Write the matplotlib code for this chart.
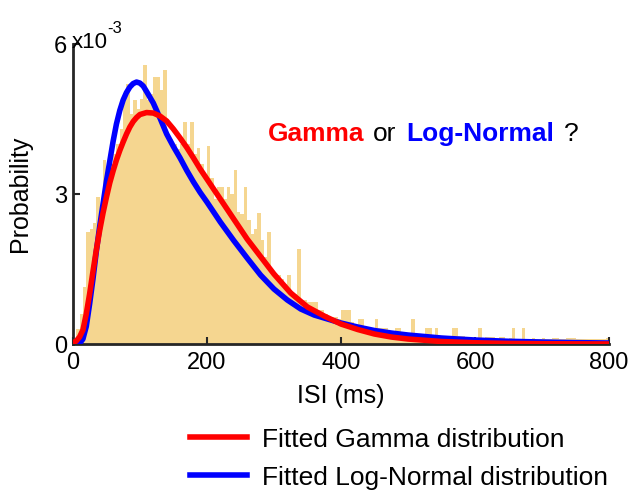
import matplotlib
matplotlib.use('Agg')
import matplotlib.pyplot as plt
import numpy as np
from matplotlib.lines import Line2D

plt.rcParams['font.family'] = ['Liberation Sans', 'DejaVu Sans']

# ISI histogram, 5 ms bins starting at 0 (probability, units of 1e-3)
bin_width = 5
hist_vals = [
    0.05, 0.3, 0.6, 1.14, 2.24, 2.3, 2.42, 2.94, 2.74, 3.68,
    3.4, 3.6, 3.8, 4.0, 4.3, 4.88, 5.2, 4.6, 4.88, 4.7,
    4.9, 5.58, 4.88, 5.0, 5.34, 5.34, 5.08, 5.48, 4.2, 4.1,
    4.0, 3.9, 4.0, 4.44, 4.0, 4.44, 3.8, 3.92, 3.6, 3.4,
    3.96, 3.32, 2.9, 3.14, 3.14, 2.9, 3.14, 3.0, 3.48, 2.64,
    2.6, 3.14, 2.48, 2.2, 2.3, 2.62, 2.08, 1.74, 2.24, 1.38,
    1.38, 1.38, 1.3, 1.2, 1.38, 1.02, 1.0, 1.9, 0.88, 0.88,
    0.84, 0.84, 0.84, 0.68, 0.68, 0.6, 0.54, 0.54, 0.54, 0.5,
    0.68, 0.68, 0.68, 0.45, 0.38, 0.5, 0.5, 0.32, 0.32, 0.32,
    0.5, 0.32, 0.32, 0.32, 0.18, 0.18, 0.32, 0.32, 0.2, 0.2,
    0.2, 0.5, 0.15, 0.15, 0.15, 0.32, 0.32, 0.15, 0.32, 0.14,
    0.14, 0.14, 0.14, 0.32, 0.32, 0.16, 0.16, 0.12, 0.12, 0.1,
    0.12, 0.32, 0.1, 0.14, 0.14, 0.14, 0.1, 0.14, 0.14, 0.1,
    0.12, 0.32, 0.1, 0.1, 0.32, 0.1, 0.1, 0.12, 0.1, 0.1,
    0.12, 0.1, 0.1, 0.12, 0.12, 0.1, 0.1, 0.12, 0.12, 0.12,
    0.1, 0.1, 0.1, 0.1, 0.1, 0.1, 0.1, 0.1, 0.1, 0.12,
]
bin_left = np.arange(len(hist_vals)) * bin_width

# fitted curves (units of 1e-3)
gamma_x = [0, 5, 10, 15, 20, 25, 30, 35, 40, 45, 50, 55, 60, 65, 70, 75, 80, 85,
           90, 95, 100, 110, 120, 130, 140, 150, 160, 170, 180, 190, 200, 220,
           240, 260, 280, 300, 325, 350, 375, 400, 425, 450, 475, 500, 550, 600,
           650, 700, 750, 800]
gamma_y = [0.02, 0.06, 0.14, 0.28, 0.6, 1.0, 1.45, 1.88, 2.27, 2.62, 2.93, 3.22,
           3.46, 3.68, 3.87, 4.04, 4.2, 4.34, 4.45, 4.53, 4.59, 4.63, 4.62, 4.56,
           4.46, 4.3, 4.12, 3.93, 3.72, 3.5, 3.3, 2.9, 2.5, 2.1, 1.75, 1.4, 1.02,
           0.74, 0.56, 0.4, 0.29, 0.2, 0.14, 0.1, 0.05, 0.025, 0.012, 0.006,
           0.003, 0.001]

lognorm_x = [0, 5, 10, 15, 20, 25, 30, 35, 40, 45, 50, 55, 60, 65, 70, 75, 80, 85,
             90, 95, 100, 105, 110, 120, 130, 140, 150, 160, 170, 180, 190, 200,
             220, 240, 260, 280, 300, 320, 340, 360, 380, 400, 425, 450, 475, 500,
             550, 600, 650, 700, 750, 800]
lognorm_y = [0.0, 0.0, 0.01, 0.1, 0.35, 0.8, 1.3, 1.85, 2.35, 2.8, 3.25, 3.65,
             4.05, 4.4, 4.67, 4.88, 5.03, 5.14, 5.21, 5.24, 5.22, 5.16, 5.05, 4.82,
             4.52, 4.2, 3.95, 3.72, 3.47, 3.24, 3.03, 2.84, 2.44, 2.07, 1.72, 1.38,
             1.1, 0.88, 0.7, 0.58, 0.5, 0.42, 0.34, 0.27, 0.22, 0.18, 0.12, 0.08,
             0.055, 0.04, 0.028, 0.02]

x_ticks = [0, 200, 400, 600, 800]
y_ticks = [0, 3, 6]

fig = plt.figure(figsize=(6.28, 4.95), dpi=100)
ax = fig.add_axes([0.116, 0.305, 0.854, 0.606])

ax.bar(bin_left, hist_vals, width=bin_width, align='edge', color='#F5D690',
       linewidth=0, zorder=1)
ax.plot(lognorm_x, lognorm_y, color='#0000FF', lw=4, zorder=3)
ax.plot(gamma_x, gamma_y, color='#FF0000', lw=4, zorder=4)

ax.set_xlim(0, 800)
ax.set_ylim(0, 6)
ax.set_xticks(x_ticks)
ax.set_yticks(y_ticks)
ax.tick_params(direction='in', length=5, width=1.5, labelsize=17,
               colors='#262626', labelcolor='black')
ax.tick_params(axis='x', pad=6)
ax.tick_params(axis='y', pad=4)
for side in ['top', 'right']:
    ax.spines[side].set_visible(False)
for side in ['left', 'bottom']:
    ax.spines[side].set_linewidth(2)
    ax.spines[side].set_color('#262626')

ax.set_xlabel('ISI (ms)', fontsize=18, labelpad=7)
ax.set_ylabel('Probability', fontsize=18, labelpad=16)

# y scale factor, written by hand
fig.text(72 / 628, 1 - 48 / 495, 'x10', fontsize=16, ha='left', va='baseline')
fig.text(107 / 628, 1 - 33 / 495, '-3', fontsize=12, ha='left', va='baseline')

# question in the plot area
ax.text(291, 4.07, 'Gamma', color='#FF0000', fontsize=19, fontweight='bold')
ax.text(447, 4.07, 'or', color='black', fontsize=19)
ax.text(497, 4.07, 'Log-Normal', color='#0000FF', fontsize=19, fontweight='bold')
ax.text(733, 4.07, '?', color='black', fontsize=19)

handles = [Line2D([], [], color='#FF0000', lw=4),
           Line2D([], [], color='#0000FF', lw=4)]
fig.legend(handles, ['Fitted Gamma distribution', 'Fitted Log-Normal distribution'],
           loc='upper left', bbox_to_anchor=(0.302, 0.136), frameon=False,
           fontsize=19, handlelength=2.16, handletextpad=0.6, labelspacing=0.53,
           borderpad=0, borderaxespad=0)

fig.savefig('out.png', dpi=100)
